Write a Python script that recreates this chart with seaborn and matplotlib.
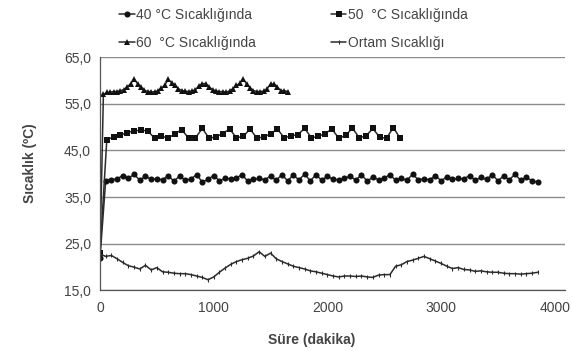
import numpy as np
import pandas as pd
import matplotlib
matplotlib.use("Agg")
import matplotlib.pyplot as plt
import seaborn as sns

#############################################
########## 1. Data
#############################################

# 40 °C series, one reading every 50 min (first one at t = 0)
step_40 = 50
temp_40 = [22.0, 38.5, 38.7, 38.9, 39.6, 39.0, 39.9, 38.6, 39.5, 38.8,
           38.9, 38.7, 39.6, 38.4, 39.5, 38.6, 38.9, 39.8, 38.2, 38.8,
           39.6, 38.5, 39.0, 38.9, 39.1, 39.8, 38.4, 38.8, 39.0, 38.7,
           39.5, 38.6, 39.8, 38.5, 39.7, 38.7, 39.9, 38.5, 39.8, 38.6,
           39.5, 38.8, 38.7, 39.0, 39.5, 38.6, 39.8, 38.4, 39.3, 38.7,
           39.1, 39.8, 38.6, 39.0, 38.6, 39.9, 38.7, 38.9, 38.7, 39.6,
           38.5, 39.3, 38.8, 39.0, 38.9, 39.6, 38.6, 39.2, 38.8, 39.8,
           38.5, 39.5, 38.7, 39.9, 38.6, 39.2, 38.5, 38.2]

# 50 °C series, one reading every 60 min
step_50 = 60
temp_50 = [23.0, 47.3, 47.9, 48.3, 48.8, 49.2, 49.3, 49.2, 47.6, 48.1,
           47.6, 48.6, 49.4, 47.6, 47.7, 49.7, 47.6, 47.9, 48.6, 49.6,
           47.7, 48.0, 49.6, 47.6, 47.9, 48.5, 49.6, 47.7, 48.1, 48.4,
           49.7, 47.7, 48.0, 48.6, 49.6, 47.6, 48.2, 49.8, 47.7, 48.1,
           49.7, 47.8, 47.6, 49.9, 47.6]

# 60 °C series, one reading every 30 min
step_60 = 30
temp_60 = [22.5, 57.0, 57.4, 57.5, 57.6, 57.6, 57.8, 58.0, 58.6, 59.3,
           60.3, 59.3, 58.6, 57.9, 57.6, 57.6, 57.5, 57.8, 58.3, 59.0,
           60.2, 59.5, 59.0, 58.2, 57.8, 57.7, 57.6, 57.7, 58.0, 58.8,
           59.3, 59.3, 58.6, 58.0, 57.7, 57.6, 57.6, 57.5, 57.7, 58.2,
           58.9, 59.4, 60.3, 59.2, 58.4, 57.8, 57.6, 57.6, 57.7, 58.2,
           59.2, 59.2, 58.6, 57.8, 57.8, 57.6]

# Ambient temperature, one reading every 50 min
step_amb = 50
temp_amb = [22.8, 22.3, 22.5, 21.8, 21.0, 20.3, 20.0, 19.6, 20.4, 19.4,
            19.9, 19.0, 18.9, 18.7, 18.6, 18.6, 18.4, 18.1, 17.8, 17.3,
            17.9, 18.9, 19.8, 20.6, 21.2, 21.6, 21.9, 22.4, 23.3, 22.3,
            23.0, 21.8, 21.2, 20.7, 20.2, 19.9, 19.6, 19.2, 19.0, 18.7,
            18.4, 18.1, 17.9, 18.1, 18.1, 18.0, 18.1, 17.9, 17.8, 18.3,
            18.4, 18.4, 20.2, 20.5, 21.2, 21.5, 21.9, 22.3, 21.8, 21.3,
            20.8, 20.2, 19.7, 19.9, 19.5, 19.4, 19.1, 19.2, 19.0, 18.9,
            18.9, 18.7, 18.6, 18.6, 18.5, 18.6, 18.7, 18.9]

labels = ["40 °C Sıcaklığında", "50  °C Sıcaklığında",
          "60  °C Sıcaklığında", "Ortam Sıcaklığı"]

y_ticks = [15, 25, 35, 45, 55, 65]
x_ticks = [0, 1000, 2000, 3000, 4000]

#############################################
########## 2. Build dataframes
#############################################
def make_df(values, step):
    return pd.DataFrame({"t": np.arange(len(values)) * step, "temp": values})

df_40 = make_df(temp_40, step_40)
df_50 = make_df(temp_50, step_50)
df_60 = make_df(temp_60, step_60)
df_amb = make_df(temp_amb, step_amb)

#############################################
########## 3. Plot
#############################################
sns.set_style("white")
plt.rcParams["font.family"] = ["Liberation Sans", "DejaVu Sans"]

fig = plt.figure(figsize=(5.72, 3.51), dpi=100)
ax = fig.add_axes([0.1748, 0.1724, 0.8130, 0.6652])

line_col = "#2b2b2b"
text_col = "#444444"
fs = 10

sns.lineplot(data=df_40, x="t", y="temp", ax=ax, color=line_col, lw=1.1,
             marker="o", markersize=4.4, markeredgewidth=0, markerfacecolor="#111111",
             label=labels[0])
sns.lineplot(data=df_60, x="t", y="temp", ax=ax, color=line_col, lw=1.1,
             marker="^", markersize=4.0, markeredgewidth=0, markerfacecolor="#111111",
             label=labels[2])
sns.lineplot(data=df_50, x="t", y="temp", ax=ax, color=line_col, lw=1.1,
             marker="s", markersize=4.0, markeredgewidth=0, markerfacecolor="#111111",
             label=labels[1])
sns.lineplot(data=df_amb, x="t", y="temp", ax=ax, color=line_col, lw=1.1,
             marker="|", markersize=3, markeredgewidth=0.8, markeredgecolor=line_col,
             label=labels[3])

# Axes limits and ticks
ax.set_xlim(0, 4090)
ax.set_ylim(15, 65)
ax.set_yticks(y_ticks)
ax.set_yticklabels([f"{v:.1f}".replace(".", ",") for v in y_ticks])
ax.set_xticks(x_ticks)
ax.set_xticklabels([str(v) for v in x_ticks])
ax.tick_params(axis="both", labelsize=fs, labelcolor=text_col, color="#555555",
               length=4, width=0.8, direction="out", pad=2.5)
ax.tick_params(axis="x", pad=3.5)

# Grid lines and spines
ax.grid(visible=True, which="major", axis="y", color="#8c8c8c", linewidth=1.0)
ax.grid(visible=False, axis="x")
ax.set_axisbelow(True)
for side in ["top", "right"]:
    ax.spines[side].set_visible(False)
for side in ["left", "bottom"]:
    ax.spines[side].set_color("#555555")
    ax.spines[side].set_linewidth(0.9)

# Labels
ax.set_xlabel("")
ax.set_ylabel("")
fig.text(0.545, 0.03, "Süre (dakika)", ha="center", va="center",
         fontsize=fs, fontweight="bold", color=text_col)
fig.text(0.052, 0.535, "Sıcaklık (ºC)", ha="center", va="center", rotation=90,
         fontsize=fs, fontweight="bold", color=text_col)

# Legend: two rows, two columns
handles, leg_labels = ax.get_legend_handles_labels()
ax.legend(handles, leg_labels, ncol=2, loc="lower left",
          bbox_to_anchor=(0.03, 1.005), frameon=False, fontsize=fs,
          labelcolor=text_col, handlelength=1.1, handletextpad=0.1,
          columnspacing=5.4, labelspacing=1.05, borderaxespad=0)

plt.savefig("out.png", dpi=100)
